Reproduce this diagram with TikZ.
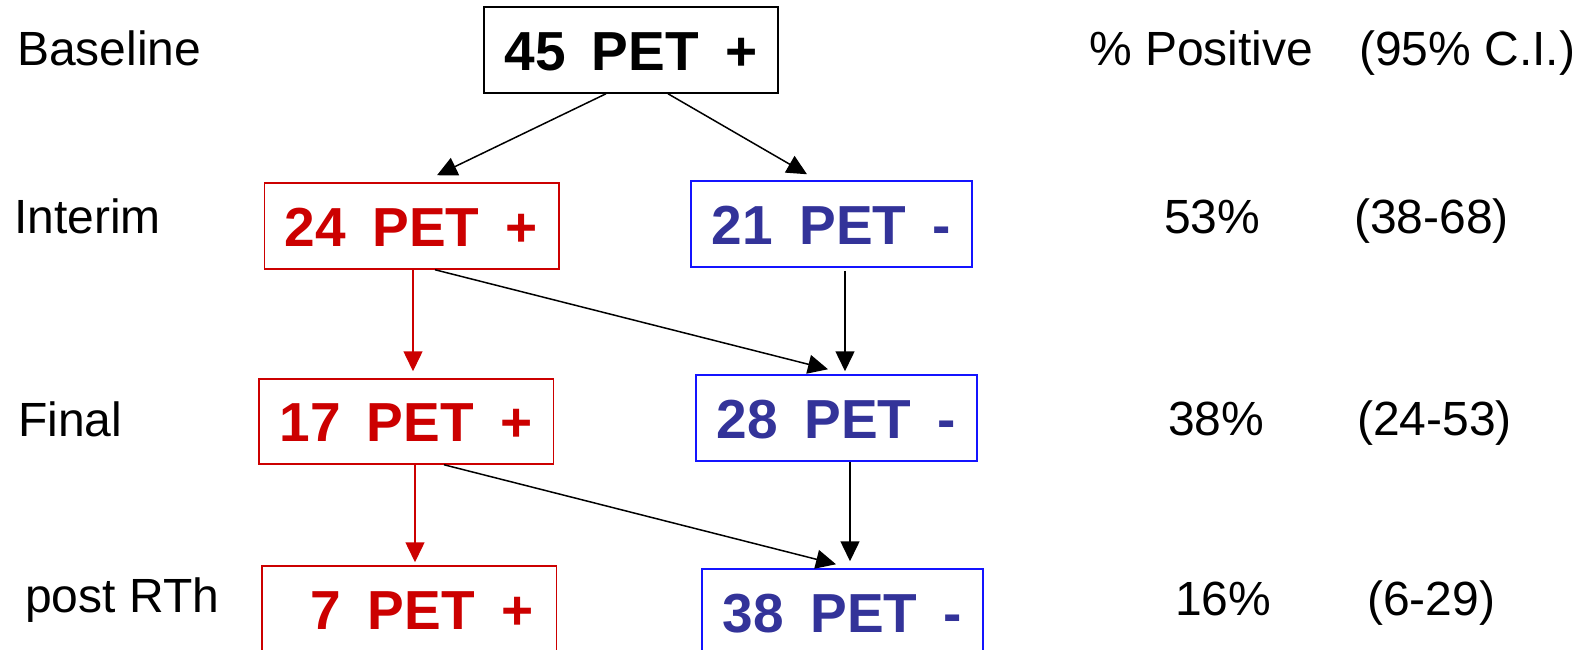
\documentclass[tikz,border=0pt]{standalone}
\usepackage{fontspec}
\setmainfont{Liberation Sans}
\usetikzlibrary{arrows.meta}
\usepackage{xcolor}
\definecolor{petred}{RGB}{204,0,0}
\definecolor{petblue}{RGB}{51,51,153}
\definecolor{lineblue}{RGB}{20,20,255}
\newcommand{\boxfont}{\fontsize{55}{60}\selectfont\bfseries}
\newcommand{\rowfont}{\fontsize{48}{52}\selectfont}
\newcommand{\gap}{\hspace{0.48em}}
\tikzstyle{startbox} = [rectangle, 
minimum width=294pt, 
minimum height=86pt,
inner sep=0pt,
text height=40pt,
text depth=0pt,
line width=1.5pt,
draw=black, 
font=\boxfont]
\tikzstyle{posbox} = [startbox, 
minimum width=294.5pt, 
draw=petred, 
text=petred]
\tikzstyle{negbox} = [startbox, 
minimum width=281pt, 
draw=lineblue, 
text=petblue]
\tikzstyle{rowlabel} = [anchor=base west, inner sep=0pt, font=\rowfont]
\tikzstyle{arrow} = [line width=1.5pt, -{Triangle[width=19pt,length=20pt]}]
\tikzstyle{redarrow} = [arrow, color=petred]

\begin{document}
\begin{tikzpicture}[x=1pt, y=-1pt, node distance=195pt]
	\useasboundingbox (0,0) rectangle (1585,649);
	
	\node (base) [startbox] at (631,50) {45\gap PET\gap +};
	\node (pos1) [posbox, node distance=176pt, below of=base, xshift=-219.5pt] {24\gap PET\gap +};
	\node (neg1) [negbox, node distance=174pt, below of=base, xshift=200.5pt] {21\gap PET\gap -};
	
	\node (pos2) [posbox, node distance=195.5pt, below of=pos1, xshift=-5.5pt, minimum height=85pt] {17\gap PET\gap +};
	\node (neg2) [negbox, node distance=194pt, below of=neg1, xshift=5pt] {28\gap PET\gap -};
	
	\node (pos3) [posbox, node distance=187.5pt, below of=pos2, xshift=3pt] {\gap 7\gap PET\gap +};
	\node (neg3) [negbox, node distance=194pt, below of=neg2, xshift=6pt] {38\gap PET\gap -};
	
	% row names
	\node (lbase) [rowlabel] at (17,65) {Baseline};
	\node (lint) [rowlabel] at (14,233) {Interim};
	\node (lfin) [rowlabel] at (18,436) {Final};
	\node (lpost) [rowlabel] at (25,612) {post RTh};
	
	% percentages
	\node (hdpos) [rowlabel] at (1089,65) {\% Positive};
	\node (hdci) [rowlabel] at (1359,65) {(95\% C.I.)};
	\node (pint) [rowlabel] at (1164,233) {53\%};
	\node (ciint) [rowlabel] at (1354,233) {(38-68)};
	\node (pfin) [rowlabel] at (1168,435) {38\%};
	\node (cifin) [rowlabel] at (1357,435) {(24-53)};
	\node (ppost) [rowlabel] at (1175,615) {16\%};
	\node (cipost) [rowlabel] at (1367,615) {(6-29)};
	
	\draw [arrow] ([xshift=-25pt]base.south) -- ([xshift=25.5pt, yshift=7pt]pos1.north);
	\draw [arrow] ([xshift=37pt]base.south) -- ([xshift=-24.5pt, yshift=6pt]neg1.north);
	\draw [redarrow] ([xshift=1.5pt]pos1.south) -- ([xshift=7pt, yshift=7pt]pos2.north);
	\draw [arrow] ([xshift=23.5pt]pos1.south) -- ([xshift=-8.5pt, yshift=5pt]neg2.north);
	\draw [arrow] ([xshift=13.5pt, yshift=-3pt]neg1.south) -- ([xshift=8.5pt, yshift=3pt]neg2.north);
	\draw [redarrow] ([xshift=9pt]pos2.south) -- ([xshift=6pt, yshift=3pt]pos3.north);
	\draw [arrow] ([xshift=38pt]pos2.south) -- ([xshift=-6.5pt, yshift=4pt]neg3.north);
	\draw [arrow] ([xshift=13.5pt]neg2.south) -- ([xshift=7.5pt, yshift=7pt]neg3.north);
	
\end{tikzpicture}
\end{document}
